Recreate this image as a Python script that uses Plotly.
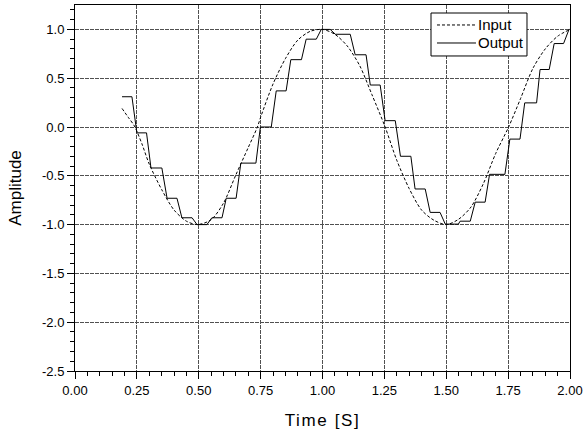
import plotly.graph_objects as go

# Input signal (dashed), read as time / amplitude pairs
input_time = [0.19, 0.215, 0.24, 0.27, 0.30, 0.35, 0.40, 0.45, 0.495, 0.55,
              0.60, 0.65, 0.70, 0.737, 0.75, 0.80, 0.85, 0.90, 0.95, 1.00,
              1.05, 1.10, 1.15, 1.20, 1.253, 1.30, 1.35, 1.40, 1.45, 1.50,
              1.55, 1.60, 1.65, 1.70, 1.752, 1.80, 1.85, 1.90, 1.95, 2.00]
input_amp = [0.19, 0.10, 0.01, -0.17, -0.38, -0.64, -0.85, -0.965, -1.00, -0.95,
             -0.78, -0.49, -0.21, 0.00, 0.10, 0.44, 0.70, 0.89, 0.98, 1.00,
             0.95, 0.83, 0.63, 0.33, 0.00, -0.34, -0.63, -0.85, -0.955, -1.00,
             -0.945, -0.82, -0.58, -0.27, 0.00, 0.29, 0.60, 0.80, 0.93, 1.00]

# Output signal (sample and hold): each held level with its start and end time
hold_start = [0.190, 0.250, 0.307, 0.372, 0.432, 0.493, 0.553, 0.611, 0.670, 0.749,
              0.813, 0.872, 0.934, 0.995, 1.052, 1.132, 1.193, 1.253, 1.315, 1.374,
              1.435, 1.496, 1.556, 1.617, 1.675, 1.757, 1.817, 1.879, 1.936, 1.996]
hold_end = [0.230, 0.289, 0.351, 0.412, 0.473, 0.533, 0.594, 0.651, 0.731, 0.793,
            0.853, 0.915, 0.975, 1.031, 1.112, 1.176, 1.233, 1.294, 1.357, 1.415,
            1.475, 1.549, 1.597, 1.657, 1.737, 1.798, 1.865, 1.916, 1.974, 1.999]
hold_level = [0.31, -0.06, -0.42, -0.73, -0.93, -1.00, -0.93, -0.73, -0.37, 0.00,
              0.37, 0.69, 0.90, 1.00, 0.95, 0.74, 0.43, 0.065, -0.30, -0.635,
              -0.875, -0.995, -0.965, -0.77, -0.485, -0.124, 0.247, 0.589, 0.855, 1.00]

x_ticks = [0.00, 0.25, 0.50, 0.75, 1.00, 1.25, 1.50, 1.75, 2.00]
y_ticks = [1.0, 0.5, 0.0, -0.5, -1.0, -1.5, -2.0, -2.5]

# Build the staircase path from the hold segments
out_t, out_a = [], []
for s, e, v in zip(hold_start, hold_end, hold_level):
    out_t += [s, e]
    out_a += [v, v]

input_dash = "3px,2px"

fig = go.Figure()
fig.add_trace(go.Scatter(
    x=input_time, y=input_amp, mode="lines", name="Input",
    line=dict(color="black", width=1, dash=input_dash, shape="spline", smoothing=0.8),
    showlegend=False,
))
fig.add_trace(go.Scatter(
    x=out_t, y=out_a, mode="lines", name="Output",
    line=dict(color="black", width=1),
    showlegend=False,
))

font_family = "Liberation Sans, Arial, sans-serif"
axis_common = dict(
    showline=True, linecolor="black", linewidth=1, mirror=True,
    ticks="outside", ticklen=7, tickcolor="black", tickwidth=1,
    showgrid=True, gridcolor="#505050", gridwidth=1, griddash="4px,1px",
    zeroline=False,
    tickfont=dict(family=font_family, size=13, color="black"),
)

fig.update_xaxes(
    range=[0, 2.0], tickvals=x_ticks, ticktext=[f"{v:.2f}" for v in x_ticks],
    minor=dict(dtick=0.05, ticks="outside", ticklen=4, tickcolor="black", showgrid=False),
    title=dict(text='<span style="letter-spacing:1.6px">Time [S]</span>',
               font=dict(family=font_family, size=17, color="black"), standoff=17),
    **axis_common,
)
fig.update_yaxes(
    range=[-2.5, 1.25], tickvals=y_ticks, ticktext=[f"{v:.1f}" for v in y_ticks],
    minor=dict(dtick=0.1, tick0=0, ticks="outside", ticklen=4, tickcolor="black", showgrid=False),
    title=dict(text="Amplitude", font=dict(family=font_family, size=17, color="black"), standoff=16),
    **axis_common,
)

# Compact boxed legend in the upper right corner of the plot area
box = dict(x0=0.7192, x1=0.9131, y0=0.8607, y1=0.9781)
rows = [(0.9454, fig.data[0].name, input_dash), (0.8962, fig.data[1].name, "solid")]
shapes = [dict(type="rect", xref="paper", yref="paper", **box,
               line=dict(color="black", width=1), fillcolor="white", layer="above")]
annotations = []
for ry, label, dash in rows:
    shapes.append(dict(type="line", xref="paper", yref="paper",
                       x0=0.7313, x1=0.8101, y0=ry, y1=ry, layer="above",
                       line=dict(color="black", width=1, dash=dash)))
    annotations.append(dict(xref="paper", yref="paper", x=0.8111, y=ry,
                            xanchor="left", yanchor="middle", showarrow=False,
                            text=label, font=dict(family=font_family, size=15, color="black")))

fig.update_layout(
    width=584, height=431,
    margin=dict(l=75, r=14, t=5, b=60, autoexpand=False),
    plot_bgcolor="white", paper_bgcolor="white",
    shapes=shapes, annotations=annotations,
)

fig.write_html("out.html")
